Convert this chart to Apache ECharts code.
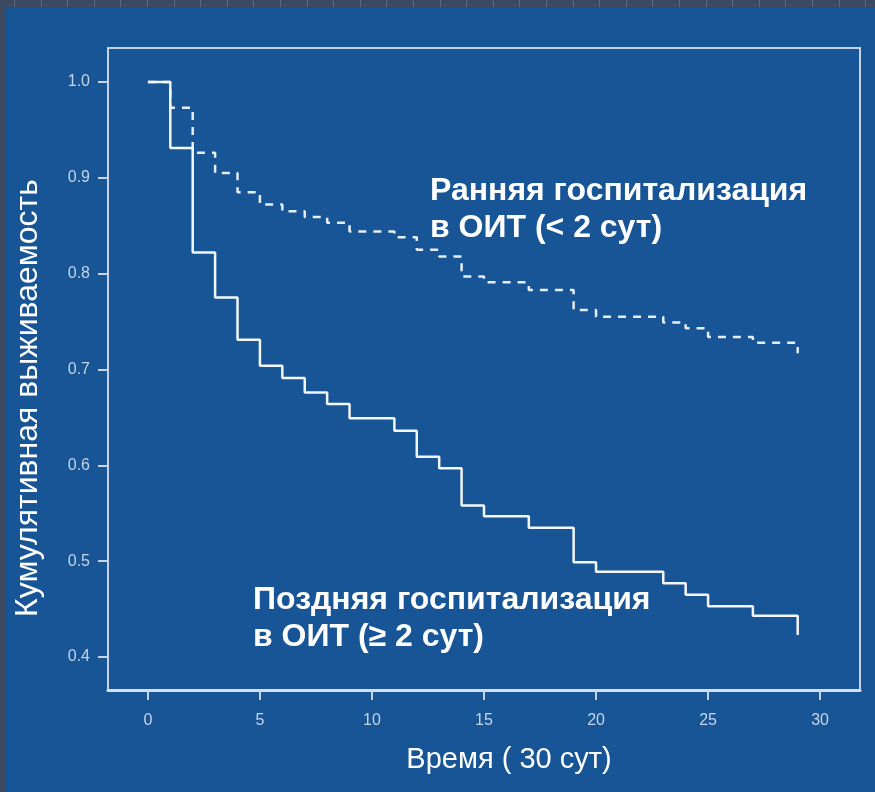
<!DOCTYPE html>
<html>
<head>
<meta charset="utf-8">
<script src="https://cdn.jsdelivr.net/npm/echarts@6/dist/echarts.min.js"></script>
<style>
html,body{margin:0;padding:0;background:#175596;}
#chart{width:875px;height:792px;}
</style>
</head>
<body>
<div id="chart"></div>
<script>
// ---- data ----
var timeLate  = [0, 1, 2, 3, 4, 5, 6, 7, 8, 9, 11, 12, 13, 14, 15, 17, 19, 20, 23, 24, 25, 27, 29];
var survLate  = [1.0, 0.931, 0.822, 0.775, 0.731, 0.704, 0.691, 0.676, 0.664, 0.649, 0.636, 0.609, 0.597, 0.558, 0.547, 0.535, 0.499, 0.489, 0.477, 0.465, 0.453, 0.443, 0.423];
var timeEarly = [0, 1, 2, 3, 4, 5, 6, 7, 8, 9, 11, 12, 13, 14, 15, 17, 19, 20, 23, 24, 25, 27, 29];
var survEarly = [1.0, 0.973, 0.926, 0.905, 0.885, 0.872, 0.865, 0.859, 0.853, 0.844, 0.838, 0.825, 0.818, 0.797, 0.791, 0.783, 0.762, 0.755, 0.749, 0.743, 0.734, 0.728, 0.717];
var xTicks = [0, 5, 10, 15, 20, 25, 30];
var yTicks = [0.4, 0.5, 0.6, 0.7, 0.8, 0.9, 1.0];
var yTitle = 'Кумулятивная выживаемость';
var xTitle = 'Время ( 30 сут)';
var earlyLabel = ['Ранняя госпитализация', 'в ОИТ (< 2 сут)'];
var lateLabel = ['Поздняя госпитализация', 'в ОИТ (≥ 2 сут)'];

function pairs(t, v) { return t.map(function (x, i) { return [x, v[i]]; }); }

var FONT = "'Liberation Sans', Arial, sans-serif";
var axisCol = '#c3d4ea';
var labelCol = '#c6d4e8';

// decorative strips at top and left edges
var deco = [
  {type:'rect', shape:{x:0,y:0,width:875,height:8}, style:{fill:'#3b4a61'}, z:10},
  {type:'rect', shape:{x:0,y:0,width:6,height:792}, style:{fill:'#3b4a61'}, z:10}
];
for (var gx = 14; gx < 875; gx += 26.6) {
  deco.push({type:'rect', shape:{x:Math.round(gx),y:0,width:1,height:7}, style:{fill:'#5a6a80'}, z:11});
}

var chart = echarts.init(document.getElementById('chart'));
chart.setOption({
  backgroundColor: '#175596',
  animation: false,
  grid: {left:108, top:48, right:15, bottom:102, show:true, borderColor:axisCol, borderWidth:2, backgroundColor:'transparent'},
  xAxis: {
    type:'value', min:-1.78, max:31.78,
    axisLine:{show:true, onZero:false, lineStyle:{color:'#d3e0f0', width:3}},
    axisTick:{show:true, customValues:xTicks, length:10, lineStyle:{color:axisCol, width:2}},
    axisLabel:{customValues:xTicks, margin:23, color:labelCol, fontSize:16, fontFamily:FONT},
    splitLine:{show:false}
  },
  yAxis: {
    type:'value', min:0.3656, max:1.0354,
    axisLine:{show:true, onZero:false, lineStyle:{color:axisCol, width:2}},
    axisTick:{show:true, customValues:yTicks, length:10, lineStyle:{color:axisCol, width:2}},
    axisLabel:{customValues:yTicks, margin:18, color:labelCol, fontSize:16, fontFamily:FONT,
      formatter:function(v){ return v.toFixed(1); }},
    splitLine:{show:false}
  },
  series: [
    {type:'line', name:'early', step:'end', data:pairs(timeEarly, survEarly), symbol:'none',
     lineStyle:{color:'#e6eef9', width:2.5, type:[8,7]}, z:2},
    {type:'line', name:'late', step:'end', data:pairs(timeLate, survLate), symbol:'none',
     lineStyle:{color:'#f3f7fc', width:2.5}, z:3}
  ],
  graphic: deco.concat([
    {type:'text', x:28, y:398, rotation:Math.PI/2,
     style:{text:yTitle, fill:'#ffffff', font:'32px '+FONT, align:'center', verticalAlign:'middle'}},
    {type:'text', x:509, y:760,
     style:{text:xTitle, fill:'#ffffff', font:'29px '+FONT, align:'center', verticalAlign:'middle'}},
    {type:'text', x:430, y:191,
     style:{text:earlyLabel[0], fill:'#ffffff', font:'bold 32px '+FONT, align:'left', verticalAlign:'middle'}},
    {type:'text', x:430, y:228,
     style:{text:earlyLabel[1], fill:'#ffffff', font:'bold 32px '+FONT, align:'left', verticalAlign:'middle'}},
    {type:'text', x:253, y:600,
     style:{text:lateLabel[0], fill:'#ffffff', font:'bold 32px '+FONT, align:'left', verticalAlign:'middle'}},
    {type:'text', x:253, y:637,
     style:{text:lateLabel[1], fill:'#ffffff', font:'bold 32px '+FONT, align:'left', verticalAlign:'middle'}}
  ])
});
</script>
</body>
</html>
